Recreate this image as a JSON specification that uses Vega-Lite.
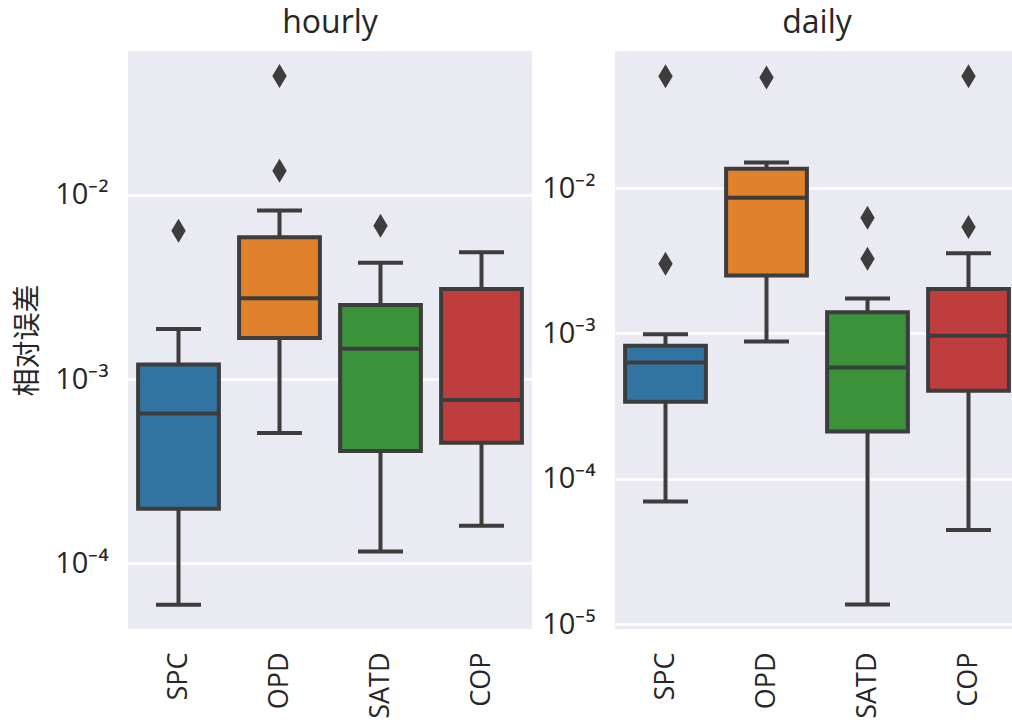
{
  "$schema": "https://vega.github.io/schema/vega-lite/v6.json",
  "background": "white",
  "padding": {"left": 14, "top": 7, "right": 0, "bottom": 0},
  "spacing": 83,
  "bounds": "flush",
  "datasets": {
    "boxes": [
      {"panel": "hourly", "method": "SPC", "lower": 5.96e-5, "q1": 1.98e-4, "median": 6.5e-4, "q3": 1.2e-3, "upper": 1.87e-3},
      {"panel": "hourly", "method": "OPD", "lower": 5.09e-4, "q1": 1.67e-3, "median": 2.74e-3, "q3": 5.88e-3, "upper": 8.22e-3},
      {"panel": "hourly", "method": "SATD", "lower": 1.16e-4, "q1": 4.07e-4, "median": 1.46e-3, "q3": 2.52e-3, "upper": 4.27e-3},
      {"panel": "hourly", "method": "COP", "lower": 1.6e-4, "q1": 4.51e-4, "median": 7.69e-4, "q3": 3.08e-3, "upper": 4.87e-3},
      {"panel": "daily", "method": "SPC", "lower": 6.98e-5, "q1": 3.38e-4, "median": 6.31e-4, "q3": 8.22e-4, "upper": 9.85e-4},
      {"panel": "daily", "method": "OPD", "lower": 8.81e-4, "q1": 2.5e-3, "median": 8.58e-3, "q3": 1.36e-2, "upper": 1.5e-2},
      {"panel": "daily", "method": "SATD", "lower": 1.36e-5, "q1": 2.11e-4, "median": 5.83e-4, "q3": 1.4e-3, "upper": 1.74e-3},
      {"panel": "daily", "method": "COP", "lower": 4.43e-5, "q1": 4.03e-4, "median": 9.64e-4, "q3": 2.02e-3, "upper": 3.56e-3}
    ],
    "outliers": [
      {"panel": "hourly", "method": "SPC", "value": 6.37e-3},
      {"panel": "hourly", "method": "OPD", "value": 0.044},
      {"panel": "hourly", "method": "OPD", "value": 0.0135},
      {"panel": "hourly", "method": "SATD", "value": 6.79e-3},
      {"panel": "daily", "method": "SPC", "value": 0.0589},
      {"panel": "daily", "method": "SPC", "value": 3.01e-3},
      {"panel": "daily", "method": "OPD", "value": 0.0577},
      {"panel": "daily", "method": "SATD", "value": 6.25e-3},
      {"panel": "daily", "method": "SATD", "value": 3.26e-3},
      {"panel": "daily", "method": "COP", "value": 0.0589},
      {"panel": "daily", "method": "COP", "value": 5.39e-3}
    ]
  },
  "config": {
    "view": {"fill": "#eaeaf2", "stroke": null},
    "title": {"font": "Open Sans", "fontSize": 32, "fontWeight": "normal", "color": "#262626", "baseline": "alphabetic", "offset": 11, "anchor": "middle"},
    "axisY": {
      "grid": true, "gridColor": "#ffffff", "gridWidth": 2.5, "domain": false, "ticks": false, "tickSize": 0,
      "labelPadding": 20, "labelFont": "Open Sans", "labelFontSize": 29, "labelColor": "#262626",
      "minExtent": 75, "maxExtent": 75,
      "titleFont": "Noto Sans CJK SC", "titleFontSize": 28, "titleFontWeight": "normal", "titleColor": "#262626", "titlePadding": 11,
      "labelExpr": "'10⁻' + ['⁰','¹','²','³','⁴','⁵','⁶'][round(-log(datum.value) / LN10)]"
    },
    "axisX": {
      "grid": false, "domain": false, "ticks": false, "tickSize": 0,
      "labelAngle": -90, "labelPadding": 23, "labelFont": "Open Sans", "labelFontSize": 27, "labelColor": "#262626"
    }
  },
  "hconcat": [
    {
      "width": 404,
      "height": 578,
      "title": "hourly",
      "encoding": {
        "x": {"field": "method", "type": "nominal", "sort": ["SPC", "OPD", "SATD", "COP"], "scale": {"paddingInner": 0, "paddingOuter": 0}, "title": null}
      },
      "layer": [
        {
          "data": {"name": "boxes"},
          "transform": [{"filter": "datum.panel === 'hourly'"}],
          "mark": {"type": "rule", "color": "#3d3d3d", "strokeWidth": 4},
          "encoding": {
            "y": {"field": "lower", "type": "quantitative", "title": "相对误差", "scale": {"type": "log", "domain": [4.405e-5, 0.0602], "nice": false}, "axis": {"values": [0.0001, 0.001, 0.01]}},
            "y2": {"field": "q1"}
          }
        },
        {
          "data": {"name": "boxes"},
          "transform": [{"filter": "datum.panel === 'hourly'"}],
          "mark": {"type": "rule", "color": "#3d3d3d", "strokeWidth": 4},
          "encoding": {
            "y": {"field": "q3", "type": "quantitative", "title": "相对误差", "scale": {"type": "log", "domain": [4.405e-5, 0.0602], "nice": false}},
            "y2": {"field": "upper"}
          }
        },
        {
          "data": {"name": "boxes"},
          "transform": [{"filter": "datum.panel === 'hourly'"}],
          "mark": {"type": "tick", "color": "#3d3d3d", "thickness": 4, "size": 45, "opacity": 1},
          "encoding": {
            "y": {"field": "lower", "type": "quantitative", "title": "相对误差", "scale": {"type": "log", "domain": [4.405e-5, 0.0602], "nice": false}}
          }
        },
        {
          "data": {"name": "boxes"},
          "transform": [{"filter": "datum.panel === 'hourly'"}],
          "mark": {"type": "tick", "color": "#3d3d3d", "thickness": 4, "size": 45, "opacity": 1},
          "encoding": {
            "y": {"field": "upper", "type": "quantitative", "title": "相对误差", "scale": {"type": "log", "domain": [4.405e-5, 0.0602], "nice": false}}
          }
        },
        {
          "data": {"name": "boxes"},
          "transform": [{"filter": "datum.panel === 'hourly'"}],
          "mark": {"type": "bar", "width": {"band": 0.8}, "stroke": "#3d3d3d", "strokeWidth": 4, "opacity": 1},
          "encoding": {
            "y": {"field": "q1", "type": "quantitative", "title": "相对误差", "scale": {"type": "log", "domain": [4.405e-5, 0.0602], "nice": false}},
            "y2": {"field": "q3"},
            "color": {"field": "method", "type": "nominal", "scale": {"domain": ["SPC", "OPD", "SATD", "COP"], "range": ["#3274a1", "#e1812c", "#3a923a", "#c03d3e"]}, "legend": null}
          }
        },
        {
          "data": {"name": "boxes"},
          "transform": [{"filter": "datum.panel === 'hourly'"}],
          "mark": {"type": "tick", "color": "#3d3d3d", "thickness": 4, "size": 81, "opacity": 1},
          "encoding": {
            "y": {"field": "median", "type": "quantitative", "title": "相对误差", "scale": {"type": "log", "domain": [4.405e-5, 0.0602], "nice": false}}
          }
        },
        {
          "data": {"name": "outliers"},
          "transform": [{"filter": "datum.panel === 'hourly'"}],
          "mark": {"type": "point", "shape": "M0,-1L0.6,0L0,1L-0.6,0Z", "filled": true, "size": 576, "color": "#3d3d3d", "opacity": 1},
          "encoding": {
            "y": {"field": "value", "type": "quantitative", "title": "相对误差", "scale": {"type": "log", "domain": [4.405e-5, 0.0602], "nice": false}}
          }
        }
      ]
    },
    {
      "width": 404,
      "height": 578,
      "title": "daily",
      "encoding": {
        "x": {"field": "method", "type": "nominal", "sort": ["SPC", "OPD", "SATD", "COP"], "scale": {"paddingInner": 0, "paddingOuter": 0}, "title": null}
      },
      "layer": [
        {
          "data": {"name": "boxes"},
          "transform": [{"filter": "datum.panel === 'daily'"}],
          "mark": {"type": "rule", "color": "#3d3d3d", "strokeWidth": 4},
          "encoding": {
            "y": {"field": "lower", "type": "quantitative", "title": null, "scale": {"type": "log", "domain": [9.24e-6, 0.0878], "nice": false}, "axis": {"values": [0.00001, 0.0001, 0.001, 0.01]}},
            "y2": {"field": "q1"}
          }
        },
        {
          "data": {"name": "boxes"},
          "transform": [{"filter": "datum.panel === 'daily'"}],
          "mark": {"type": "rule", "color": "#3d3d3d", "strokeWidth": 4},
          "encoding": {
            "y": {"field": "q3", "type": "quantitative", "title": null, "scale": {"type": "log", "domain": [9.24e-6, 0.0878], "nice": false}},
            "y2": {"field": "upper"}
          }
        },
        {
          "data": {"name": "boxes"},
          "transform": [{"filter": "datum.panel === 'daily'"}],
          "mark": {"type": "tick", "color": "#3d3d3d", "thickness": 4, "size": 45, "opacity": 1},
          "encoding": {
            "y": {"field": "lower", "type": "quantitative", "title": null, "scale": {"type": "log", "domain": [9.24e-6, 0.0878], "nice": false}}
          }
        },
        {
          "data": {"name": "boxes"},
          "transform": [{"filter": "datum.panel === 'daily'"}],
          "mark": {"type": "tick", "color": "#3d3d3d", "thickness": 4, "size": 45, "opacity": 1},
          "encoding": {
            "y": {"field": "upper", "type": "quantitative", "title": null, "scale": {"type": "log", "domain": [9.24e-6, 0.0878], "nice": false}}
          }
        },
        {
          "data": {"name": "boxes"},
          "transform": [{"filter": "datum.panel === 'daily'"}],
          "mark": {"type": "bar", "width": {"band": 0.8}, "stroke": "#3d3d3d", "strokeWidth": 4, "opacity": 1},
          "encoding": {
            "y": {"field": "q1", "type": "quantitative", "title": null, "scale": {"type": "log", "domain": [9.24e-6, 0.0878], "nice": false}},
            "y2": {"field": "q3"},
            "color": {"field": "method", "type": "nominal", "scale": {"domain": ["SPC", "OPD", "SATD", "COP"], "range": ["#3274a1", "#e1812c", "#3a923a", "#c03d3e"]}, "legend": null}
          }
        },
        {
          "data": {"name": "boxes"},
          "transform": [{"filter": "datum.panel === 'daily'"}],
          "mark": {"type": "tick", "color": "#3d3d3d", "thickness": 4, "size": 81, "opacity": 1},
          "encoding": {
            "y": {"field": "median", "type": "quantitative", "title": null, "scale": {"type": "log", "domain": [9.24e-6, 0.0878], "nice": false}}
          }
        },
        {
          "data": {"name": "outliers"},
          "transform": [{"filter": "datum.panel === 'daily'"}],
          "mark": {"type": "point", "shape": "M0,-1L0.6,0L0,1L-0.6,0Z", "filled": true, "size": 576, "color": "#3d3d3d", "opacity": 1},
          "encoding": {
            "y": {"field": "value", "type": "quantitative", "title": null, "scale": {"type": "log", "domain": [9.24e-6, 0.0878], "nice": false}}
          }
        }
      ]
    }
  ],
  "resolve": {"scale": {"y": "independent", "x": "independent"}}
}
